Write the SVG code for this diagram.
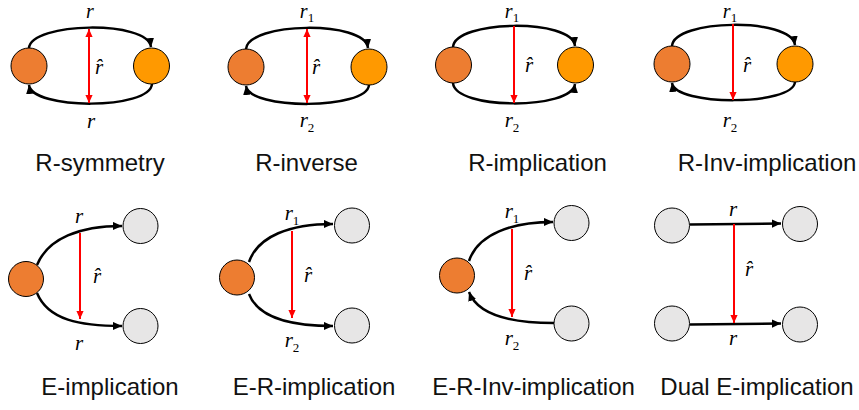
<svg xmlns="http://www.w3.org/2000/svg" width="859" height="410" viewBox="0 0 859 410">
<defs>
<marker id="ah" viewBox="0 0 10 10" refX="10" refY="5" markerWidth="9" markerHeight="9" markerUnits="userSpaceOnUse" orient="auto-start-reverse">
<path d="M0,0.5 L10,5 L0,9.5 z" fill="#000"/>
</marker>
<marker id="rh" viewBox="0 0 10 10" refX="10" refY="5" markerWidth="9" markerHeight="8" markerUnits="userSpaceOnUse" orient="auto-start-reverse">
<path d="M0,0.5 L10,5 L0,9.5 z" fill="#FF0000"/>
</marker>
</defs>
<style>
.o1{fill:#ED7D31;stroke:#000;stroke-width:1}
.o2{fill:#FF9900;stroke:#000;stroke-width:1}
.g{fill:#E7E6E6;stroke:#000;stroke-width:1}
.e{fill:none;stroke:#000;stroke-width:2.5;marker-end:url(#ah)}
.red{fill:none;stroke:#FF0000;stroke-width:2;marker-end:url(#rh)}
.red2{fill:none;stroke:#FF0000;stroke-width:2;marker-start:url(#rh);marker-end:url(#rh)}
.m{font-family:"Liberation Serif",serif;font-style:italic;font-size:21px;fill:#000;text-anchor:middle}
.t{font-size:20px}
.s{font-style:normal;font-size:13px}
.lab{font-family:"Liberation Sans",Arial,sans-serif;font-size:24px;fill:#111;text-anchor:middle}
</style>
<g id="connectors">
<path class="e" d="M29,48 C31,22 148,20 151,47"/>
<path class="e" d="M152,84 C150,110 32,110 29,85"/>
<path class="red2" d="M89,29 L89,103"/>
<path class="e" d="M246,49 C248,22 365,20 368,48"/>
<path class="e" d="M369,85 C367,110 249,110 246,86"/>
<path class="red2" d="M307,29 L307,103"/>
<path class="e" d="M453,47 C455,20 572,18 575,46"/>
<path class="e" d="M453,83 C455,110 572,110 575,84"/>
<path class="red" d="M514,26 L514,103"/>
<path class="e" d="M672,46 C674,19 791,17 795,45"/>
<path class="e" d="M795,82 C793,106 675,106 672,83"/>
<path class="red" d="M733,24 L733,100"/>
<path class="e" d="M37,265 C48,238 80,226 122,226"/>
<path class="e" d="M37,293 C48,320 80,326 122,326"/>
<path class="red" d="M80,233 L80,319"/>
<path class="e" d="M249,262 C258,236 290,224 333,224"/>
<path class="e" d="M249,294 C258,318 290,326 333,326"/>
<path class="red" d="M292,231 L292,318"/>
<path class="e" d="M469,261 C478,234 512,222 553,222"/>
<path class="e" d="M554,323 C512,323 478,316 469,292"/>
<path class="red" d="M512,229 L512,317"/>
<path class="e" d="M690,224.5 L781,223.5"/>
<path class="e" d="M690,324.5 L781,323.5"/>
<path class="red" d="M734,224 L734,323"/>
</g>
<g id="p1">
<circle id="p1a" class="o1" cx="29" cy="66" r="18"/>
<circle id="p1b" class="o2" cx="151.5" cy="66" r="18"/>
<text class="m t" x="90" y="18">r</text>
<text class="m" x="99" y="74">r̂</text>
<text class="m" x="91" y="128">r</text>
<text class="lab" x="100" y="171">R-symmetry</text>
</g>
<g id="p2">
<circle id="p2a" class="o1" cx="246" cy="67" r="18"/>
<circle id="p2b" class="o2" cx="369" cy="67" r="18"/>
<text class="m t" x="307" y="18">r<tspan class="s" dy="4">1</tspan></text>
<text class="m" x="316" y="74">r̂</text>
<text class="m" x="307" y="127">r<tspan class="s" dy="5">2</tspan></text>
<text class="lab" x="306.5" y="171">R-inverse</text>
</g>
<g id="p3">
<circle id="p3a" class="o1" cx="453.5" cy="65" r="18"/>
<circle id="p3b" class="o2" cx="575.5" cy="65" r="18"/>
<text class="m t" x="512" y="18">r<tspan class="s" dy="4">1</tspan></text>
<text class="m" x="529" y="72">r̂</text>
<text class="m" x="512" y="127">r<tspan class="s" dy="5">2</tspan></text>
<text class="lab" x="537.5" y="171">R-implication</text>
</g>
<g id="p4">
<circle id="p4a" class="o1" cx="672" cy="64" r="18"/>
<circle id="p4b" class="o2" cx="795" cy="64" r="18"/>
<text class="m t" x="730" y="18">r<tspan class="s" dy="4">1</tspan></text>
<text class="m" x="747" y="72">r̂</text>
<text class="m" x="730" y="127">r<tspan class="s" dy="5">2</tspan></text>
<text class="lab" x="767" y="171">R-Inv-implication</text>
</g>
<g id="p5">
<circle id="p5a" class="o1" cx="26" cy="279" r="17.5"/>
<circle id="p5b" class="g" cx="140.5" cy="226" r="17.5"/>
<circle id="p5c" class="g" cx="140.5" cy="326" r="17.5"/>
<text class="m" x="79" y="223">r</text>
<text class="m" x="97" y="283">r̂</text>
<text class="m" x="79" y="350">r</text>
<text class="lab" x="110" y="395">E-implication</text>
</g>
<g id="p6">
<circle id="p6a" class="o1" cx="237" cy="277.5" r="17.5"/>
<circle id="p6b" class="g" cx="352" cy="225.5" r="17.5"/>
<circle id="p6c" class="g" cx="352" cy="325.5" r="17.5"/>
<text class="m" x="292" y="220">r<tspan class="s" dy="5">1</tspan></text>
<text class="m" x="308" y="282">r̂</text>
<text class="m" x="292" y="347">r<tspan class="s" dy="5">2</tspan></text>
<text class="lab" x="314" y="395">E-R-implication</text>
</g>
<g id="p7">
<circle id="p7a" class="o1" cx="457" cy="275.5" r="17.5"/>
<circle id="p7b" class="g" cx="571.5" cy="223" r="17.5"/>
<circle id="p7c" class="g" cx="571.5" cy="323.5" r="17.5"/>
<text class="m" x="512" y="218">r<tspan class="s" dy="5">1</tspan></text>
<text class="m" x="528" y="280">r̂</text>
<text class="m" x="512" y="345">r<tspan class="s" dy="5">2</tspan></text>
<text class="lab" x="533.5" y="395">E-R-Inv-implication</text>
</g>
<g id="p8">
<circle id="p8a" class="g" cx="672" cy="225.5" r="17.5"/>
<circle id="p8b" class="g" cx="800" cy="224" r="17.5"/>
<circle id="p8c" class="g" cx="672" cy="323.5" r="17.5"/>
<circle id="p8d" class="g" cx="800" cy="324.5" r="17.5"/>
<text class="m" x="733" y="216">r</text>
<text class="m" x="749" y="276">r̂</text>
<text class="m" x="733" y="345">r</text>
<text class="lab" x="757" y="395">Dual E-implication</text>
</g>
</svg>
